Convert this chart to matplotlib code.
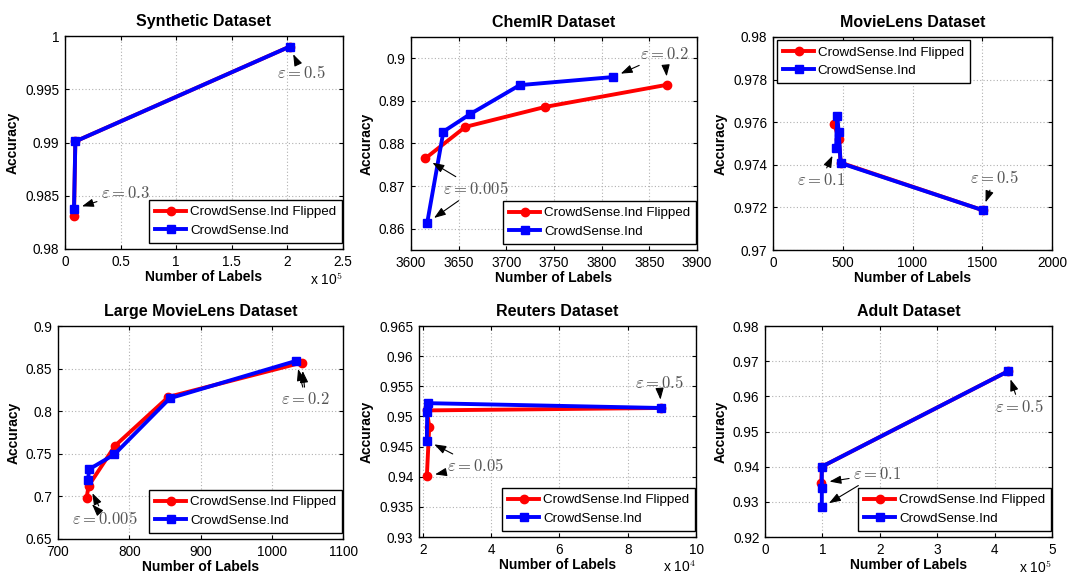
import matplotlib
matplotlib.use("Agg")
import matplotlib.pyplot as plt
from matplotlib.ticker import FuncFormatter, MultipleLocator

plt.rcParams['font.family'] = ['Liberation Sans', 'DejaVu Sans']
plt.rcParams['mathtext.fontset'] = 'cm'

# ---------------- data ----------------
titles = ["Synthetic Dataset", "ChemIR Dataset", "MovieLens Dataset",
          "Large MovieLens Dataset", "Reuters Dataset", "Adult Dataset"]
series_names = ["CrowdSense.Ind Flipped", "CrowdSense.Ind"]

syn_red_x = [8100, 9300, 202000]
syn_red_y = [0.9831, 0.9901, 0.9990]
syn_blue_x = [8100, 9300, 202000]
syn_blue_y = [0.98377, 0.9901, 0.9990]

chem_red_x = [3615, 3657, 3741, 3869]
chem_red_y = [0.8765, 0.8839, 0.8886, 0.8938]
chem_blue_x = [3617, 3634, 3662, 3714, 3812]
chem_blue_y = [0.8614, 0.8828, 0.8869, 0.8937, 0.8956]

ml_red_x = [440, 472, 485, 1503]
ml_red_y = [0.9759, 0.9752, 0.9741, 0.97187]
ml_blue_x = [452, 461, 471, 485, 1503]
ml_blue_y = [0.97478, 0.97627, 0.97553, 0.97408, 0.97187]

lml_red_x = [740, 743, 780, 855, 1042]
lml_red_y = [0.6977, 0.7125, 0.7594, 0.8168, 0.8570]
lml_blue_x = [742, 744, 779, 857, 1034]
lml_blue_y = [0.7195, 0.7320, 0.7492, 0.8152, 0.8590]

reu_red_x = [21200, 21900, 21200, 89800]
reu_red_y = [0.9401, 0.9483, 0.9510, 0.9514]
reu_blue_x = [21200, 21300, 21400, 89800]
reu_blue_y = [0.9460, 0.9507, 0.9522, 0.9514]

adu_red_x = [98000, 99000, 423000]
adu_red_y = [0.9354, 0.9400, 0.9671]
adu_blue_x = [99000, 99000, 99000, 423000]
adu_blue_y = [0.9284, 0.9338, 0.9400, 0.9671]

eps_labels = [("0.3", "0.5"), ("0.005", "0.2"), ("0.1", "0.5"),
              ("0.005", "0.2"), ("0.05", "0.5"), ("0.1", "0.5")]

# ---------------- layout / style ----------------
W, H = 1068, 575
def pos(l, r, t, b):
    return [l / W, (H - b) / H, (r - l) / W, (b - t) / H]

panels = [
    dict(data=(syn_red_x, syn_red_y, syn_blue_x, syn_blue_y), rect=pos(65, 343, 36, 249),
         xlim=(0, 250000), xstep=50000, ylim=(0.98, 1.0), ystep=0.005, scale=1e5, exp=5,
         leg='lower right',
         ann=[(eps_labels[0][0], (54500, 0.9853), [('b', 0)]),
              (eps_labels[0][1], (213000, 0.99658), [('b', 2)])]),
    dict(data=(chem_red_x, chem_red_y, chem_blue_x, chem_blue_y), rect=pos(411, 697, 37, 250),
         xlim=(3600, 3900), xstep=50, ylim=(0.855, 0.905), ystep=0.01, scale=1, exp=None,
         leg='lower right',
         ann=[(eps_labels[1][0], (3668, 0.8694), [('r', 0), ('b', 0)]),
              (eps_labels[1][1], (3866, 0.9010), [('b', 4), ('r', 3)])]),
    dict(data=(ml_red_x, ml_red_y, ml_blue_x, ml_blue_y), rect=pos(773, 1052, 37, 250),
         xlim=(0, 2000), xstep=500, ylim=(0.97, 0.98), ystep=0.002, scale=1, exp=None,
         leg='upper left',
         ann=[(eps_labels[2][0], (344, 0.97329), [('b', 0)]),
              (eps_labels[2][1], (1588, 0.9734), [('b', 4)])]),
    dict(data=(lml_red_x, lml_red_y, lml_blue_x, lml_blue_y), rect=pos(58, 343, 326, 539),
         xlim=(700, 1100), xstep=100, ylim=(0.65, 0.9), ystep=0.05, scale=1, exp=None,
         leg='lower right',
         ann=[(eps_labels[3][0], (766, 0.6742), [('r', 0), ('r', 1)]),
              (eps_labels[3][1], (1048, 0.814), [('b', 4), ('r', 4)])]),
    dict(data=(reu_red_x, reu_red_y, reu_blue_x, reu_blue_y), rect=pos(419, 696, 326, 537),
         xlim=(18900, 100000), xstep=20000, ylim=(0.93, 0.965), ystep=0.005, scale=1e4, exp=4,
         leg='lower right',
         ann=[(eps_labels[4][0], (35500, 0.9418), [('r', 0), ('b', 0)]),
              (eps_labels[4][1], (89200, 0.9556), [('b', 3)])]),
    dict(data=(adu_red_x, adu_red_y, adu_blue_x, adu_blue_y), rect=pos(765, 1052, 326, 537),
         xlim=(0, 500000), xstep=100000, ylim=(0.92, 0.98), ystep=0.01, scale=1e5, exp=5,
         leg='lower right',
         ann=[(eps_labels[5][0], (196000, 0.9379), [('r', 0), ('b', 0)]),
              (eps_labels[5][1], (444000, 0.957), [('b', 3)])]),
]

fig = plt.figure(figsize=(W / 100, H / 100), dpi=100)

for title, p in zip(titles, panels):
    ax = fig.add_axes(p['rect'])
    rx, ry, bx, by = p['data']
    ax.plot(rx, ry, '-o', color='red', lw=2.8, ms=6, label=series_names[0], zorder=3)
    ax.plot(bx, by, '-s', color='blue', lw=2.8, ms=6, label=series_names[1], zorder=4)
    ax.set_xlim(*p['xlim'])
    ax.set_ylim(*p['ylim'])
    ax.xaxis.set_major_locator(MultipleLocator(p['xstep']))
    ax.yaxis.set_major_locator(MultipleLocator(p['ystep']))
    sc = p['scale']
    ax.xaxis.set_major_formatter(FuncFormatter(lambda v, _, s=sc: '%g' % round(v / s, 6)))
    ax.yaxis.set_major_formatter(FuncFormatter(lambda v, _: '%g' % round(v, 6)))
    ax.grid(True, linestyle=(0, (1, 2)), color='#b0b0b0', lw=0.8)
    ax.tick_params(direction='in', top=True, right=True, length=3, labelsize=9.8, pad=4)
    for s in ax.spines.values():
        s.set_linewidth(1.0)
    ax.set_title(title, fontsize=11.5, fontweight='bold', pad=7)
    ax.set_xlabel('Number of Labels', fontsize=10, fontweight='bold', labelpad=1)
    ax.set_ylabel('Accuracy', fontsize=10, fontweight='bold', labelpad=4)
    if p['exp'] is not None:
        ax.text(1.0, -0.145, r'x 10$^{%d}$' % p['exp'], transform=ax.transAxes,
                ha='right', va='center', fontsize=10)
    common = dict(borderaxespad=0, fontsize=9.6, fancybox=False, framealpha=1,
                  edgecolor='black', handlelength=2.3, handletextpad=0.3,
                  borderpad=0.45, labelspacing=0.45)
    if p['leg'] == 'lower right':
        leg = ax.legend(loc='lower right', bbox_to_anchor=(0.997, 0.03), **common)
    else:
        leg = ax.legend(loc='upper left', bbox_to_anchor=(0.015, 0.985), **common)
    leg.get_frame().set_linewidth(1.0)
    leg.set_zorder(10)
    # annotations
    pts = {'r': (rx, ry), 'b': (bx, by)}
    for lab, tpos, targets in p['ann']:
        for k, (ser, idx) in enumerate(targets):
            xs, ys = pts[ser]
            ax.annotate(r'$\varepsilon = %s$' % lab, xy=(xs[idx], ys[idx]), xytext=tpos,
                        ha='center', va='center', fontsize=12,
                        color='#555555' if k == 0 else 'none',
                        arrowprops=dict(arrowstyle='-|>,head_length=0.7,head_width=0.25',
                                        color='black', lw=0.8, shrinkA=1, shrinkB=6,
                                        mutation_scale=10),
                        zorder=6)

fig.savefig('out.png', dpi=100)
